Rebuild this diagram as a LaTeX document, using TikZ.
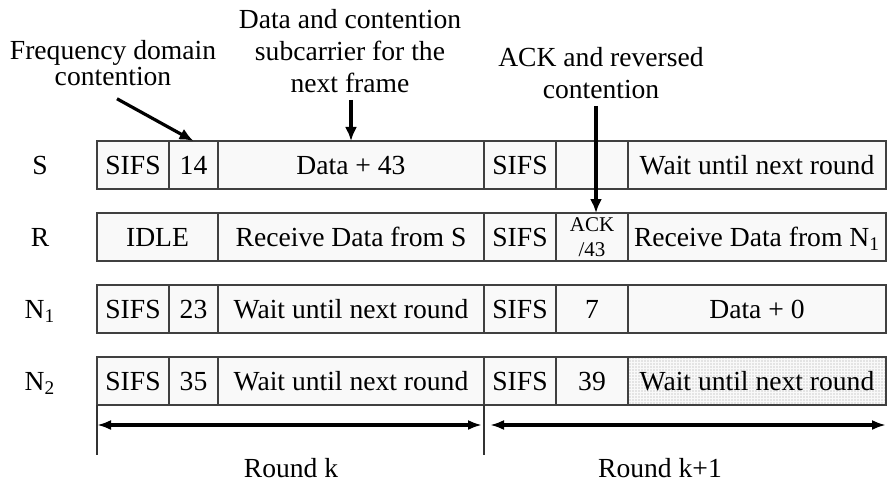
\documentclass[tikz,border=0pt]{standalone}
\usepackage{fontspec}
\setmainfont{Liberation Serif}
\usetikzlibrary{positioning,arrows.meta,patterns.meta}

\tikzset{
  cell/.style={draw=black!75, line width=0.65pt, fill=gray!5, minimum height=24pt,
    inner sep=0pt, outer sep=0pt, text height=11pt, text depth=2pt},
  wsifs/.style={cell, minimum width=36pt},
  wnum/.style={cell, minimum width=24.5pt},
  widle/.style={cell, minimum width=60.5pt},
  wlong/.style={cell, minimum width=133pt},
  wend/.style={cell, minimum width=129pt},
  dotted box/.style={preaction={fill=gray!5},
    pattern={Dots[distance=1.5pt, radius=0.35pt]}, pattern color=gray!75},
  rowlabel/.style={text height=11pt, text depth=2pt},
  pointer/.style={line width=1.6pt, -{Latex[length=7pt,width=6pt]}},
  span/.style={line width=1.6pt, {Latex[length=7pt,width=5pt]}-{Latex[length=7pt,width=5pt]}},
  tick/.style={draw=black!80, line width=0.6pt}
}

\begin{document}
\begin{tikzpicture}[x=0.5pt, y=-0.5pt, font=\fontsize{13.8}{16}\selectfont]
        \useasboundingbox (0,0) rectangle (888,481);

        % row labels
        \foreach \name/\txt/\y in {S/S/165, R/R/237, N1/N\textsubscript{1}/309, N2/N\textsubscript{2}/381}
            \node[rowlabel] (lab\name) at (40,\y) {\txt};

        % S
        \node[wsifs, anchor=west] (s1) at (97,165) {SIFS};
        \node[wnum, right=0pt of s1] (s2) {14};
        \node[wlong, right=0pt of s2] (s3) {Data + 43};
        \node[wsifs, right=0pt of s3] (s4) {SIFS};
        \node[wsifs, right=0pt of s4] (s5) {};
        \node[wend, right=0pt of s5] (s6) {Wait until next round};

        % R
        \node[widle, anchor=west] (r1) at (97,237) {IDLE};
        \node[wlong, right=0pt of r1] (r2) {Receive Data from S};
        \node[wsifs, right=0pt of r2] (r3) {SIFS};
        \node[wsifs, right=0pt of r3, text height=, text depth=, align=center,
            font=\fontsize{10.5}{12.5}\selectfont] (r4) {ACK\\/43};
        \node[wend, right=0pt of r4] (r5) {Receive Data from N\textsubscript{1}};

        % N1
        \node[wsifs, anchor=west] (na1) at (97,309) {SIFS};
        \node[wnum, right=0pt of na1] (na2) {23};
        \node[wlong, right=0pt of na2] (na3) {Wait until next round};
        \node[wsifs, right=0pt of na3] (na4) {SIFS};
        \node[wsifs, right=0pt of na4] (na5) {7};
        \node[wend, right=0pt of na5] (na6) {Data + 0};

        % N2
        \node[wsifs, anchor=west] (nb1) at (97,381) {SIFS};
        \node[wnum, right=0pt of nb1] (nb2) {35};
        \node[wlong, right=0pt of nb2] (nb3) {Wait until next round};
        \node[wsifs, right=0pt of nb3] (nb4) {SIFS};
        \node[wsifs, right=0pt of nb4] (nb5) {39};
        \node[wend, dotted box, right=0pt of nb5] (nb6) {Wait until next round};

        % notes on top
        \node[align=center, font=\fontsize{13.8}{13}\selectfont] (freq) at (113,63) {Frequency domain\\contention};
        \node[align=center] (next) at (350,51) {Data and contention\\subcarrier for the\\next frame};
        \node[align=center] (ack) at (601,73) {ACK and reversed\\contention};
        \draw[pointer] ([xshift=2pt,yshift=-3pt]freq.south) -- (s2.north);
        \draw[pointer] (next.south -| s3.north) -- (s3.north);
        \draw[pointer] ([xshift=2pt]ack.south -| r4.north) -- ([xshift=2pt]r4.north);

        % rounds
        \draw[tick] (nb1.south west) -- ++(0,50);
        \draw[tick] (nb4.south west) -- ++(0,50);
        \draw[span] ([yshift=-10pt]nb1.south west) -- ([xshift=-1pt,yshift=-10pt]nb4.south west);
        \draw[span] ([xshift=3pt,yshift=-10pt]nb4.south west) -- ([yshift=-10pt]nb6.south east);
        \node (roundk) at (291,468) {Round k};
        \node (roundk1) at (660,468) {Round k+1};
\end{tikzpicture}
\end{document}
